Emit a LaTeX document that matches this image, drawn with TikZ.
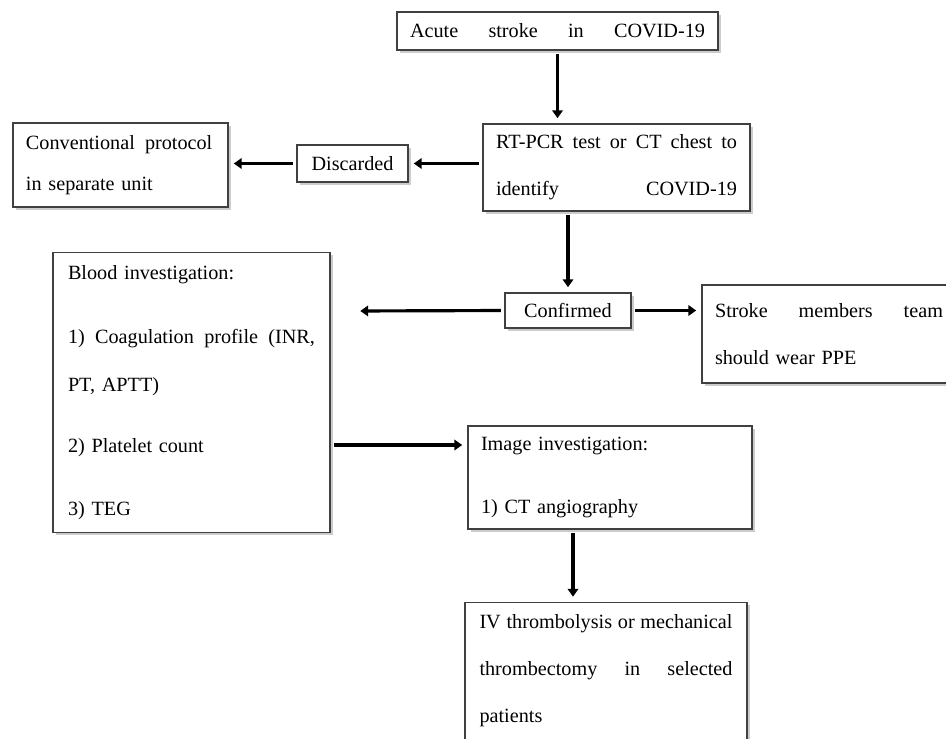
\documentclass[tikz,border=0pt]{standalone}
\usepackage{fontspec}
\setmainfont{Liberation Serif}
\usetikzlibrary{arrows.meta,shadows}

\tikzset{
  flowbox/.style={draw=black!75, line width=0.6pt, fill=white, align=left,
    inner xsep=0.26cm, inner ysep=0pt, font=\fontsize{11.5}{26.7}\selectfont,
    drop shadow={shadow xshift=1.5pt, shadow yshift=-1.5pt, opacity=0.4}},
  flowarrow/.style={line width=1.8pt, -{Triangle[length=4.5pt,width=6pt]},
    shorten <=2pt, shorten >=3pt}
}

\begin{document}
\begin{tikzpicture}
\useasboundingbox (0,0) rectangle (18.92,-14.76);

% boxes
\node[flowbox, text width=5.9cm, minimum height=0.76cm] (acute) at (11.15,-0.62)
  {Acute\hfill stroke\hfill in\hfill COVID-19};
\node[flowbox, text width=4.82cm, minimum height=1.74cm] (rtpcr) at (12.33,-3.35)
  {RT-PCR\hfill test\hfill or\hfill CT\hfill chest\hfill to\\ identify\hfill COVID-19};
\node[flowbox, align=center, minimum width=2.22cm, minimum height=0.74cm] (discarded) at (7.05,-3.27)
  {Discarded};
\node[flowbox, text width=3.78cm, minimum height=1.68cm, font=\fontsize{11.5}{23.2}\selectfont] (conventional) at (2.41,-3.30)
  {Conventional\hspace{0.5em}protocol\\ in separate unit};
\node[flowbox, text width=4.94cm, inner xsep=0.3cm, minimum height=5.6cm, font=\fontsize{11.5}{27.3}\selectfont] (blood) at (3.83,-7.85)
  {Blood investigation:\\[9.5pt]
   1)\hfill Coagulation\hfill profile\hfill (INR,\\
   PT, APTT)\\[7.4pt]
   2) Platelet count\\[8.6pt]
   3) TEG};
\node[flowbox, align=center, minimum width=2.52cm, minimum height=0.7cm] (confirmed) at (11.36,-6.21)
  {Confirmed};
\node[flowbox, text width=4.56cm, minimum height=1.96cm] (ppe) at (16.58,-6.68)
  {Stroke\hfill members\hfill team\\ should wear PPE};
\node[flowbox, text width=5.16cm, minimum height=2.06cm] (image) at (12.20,-9.55)
  {Image investigation:\\[8.6pt] 1) CT angiography};
\node[flowbox, text width=5.06cm, inner xsep=0.29cm, minimum height=2.74cm] (treatment) at (12.12,-13.42)
  {IV\hfill thrombolysis\hfill or\hfill mechanical\\
   thrombectomy\hfill in\hfill selected\\
   patients};

\coordinate (bloodend) at (7.10,-6.22);

% arrows
\draw[flowarrow] (acute.south) -- (acute.south |- rtpcr.north);
\draw[flowarrow] (rtpcr.west |- discarded.east) -- (discarded.east);
\draw[flowarrow] (discarded.west) -- (discarded.west -| conventional.east);
\draw[flowarrow] (confirmed.north |- rtpcr.south) -- (confirmed.north);
\draw[flowarrow] (confirmed.east) -- (confirmed.east -| ppe.west);
\draw[flowarrow] (confirmed.west) -- (bloodend);
\draw[flowarrow] ([yshift=-1.05cm]blood.east) -- ([yshift=-1.05cm]blood.east -| image.west);
\draw[flowarrow] ([xshift=-0.74cm]image.south) -- ([xshift=-0.74cm]image.south |- treatment.north);
\end{tikzpicture}
\end{document}
